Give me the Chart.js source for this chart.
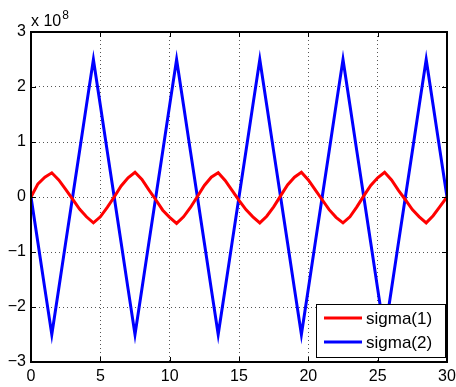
<!DOCTYPE html>
<html>
<head>
<meta charset="utf-8">
<script src="https://cdn.jsdelivr.net/npm/chart.js@4"></script>
<style>
  body { margin: 0; background: #fff; }
  #myChart { display: block; }
</style>
</head>
<body>
<canvas id="myChart" width="456" height="387"></canvas>
<script>
// data (y values in units of 1e8)
var xValues = [0, 0.5, 1, 1.5, 2, 2.5, 3, 3.5, 4, 4.5, 5, 5.5,
  6, 6.5, 7, 7.5, 8, 8.5, 9, 9.5, 10, 10.5, 11, 11.5,
  12, 12.5, 13, 13.5, 14, 14.5, 15, 15.5, 16, 16.5, 17, 17.5,
  18, 18.5, 19, 19.5, 20, 20.5, 21, 21.5, 22, 22.5, 23, 23.5,
  24, 24.5, 25, 25.5, 26, 26.5, 27, 27.5, 28, 28.5, 29, 29.5, 30];
var sigma1 = [0, 0.24, 0.36, 0.44, 0.31, 0.14, -0.04, -0.22, -0.36, -0.47, -0.36, -0.19,
  0.0, 0.2, 0.35, 0.45, 0.32, 0.13, -0.05, -0.24, -0.37, -0.48, -0.36, -0.19,
  0.01, 0.21, 0.36, 0.44, 0.3, 0.12, -0.06, -0.23, -0.36, -0.47, -0.35, -0.18,
  0.02, 0.22, 0.36, 0.45, 0.31, 0.13, -0.05, -0.23, -0.37, -0.47, -0.36, -0.18,
  0.02, 0.21, 0.35, 0.45, 0.31, 0.12, -0.05, -0.23, -0.36, -0.47, -0.34, -0.17, 0.0];
var sigma2 = [0, -0.83, -1.67, -2.5, -1.67, -0.83, 0, 0.83, 1.67, 2.5, 1.67, 0.83,
  0, -0.83, -1.67, -2.5, -1.67, -0.83, 0, 0.83, 1.67, 2.5, 1.67, 0.83,
  0, -0.83, -1.67, -2.5, -1.67, -0.83, 0, 0.83, 1.67, 2.5, 1.67, 0.83,
  0, -0.83, -1.67, -2.5, -1.67, -0.83, 0, 0.83, 1.67, 2.5, 1.67, 0.83,
  0, -0.83, -1.67, -2.5, -1.67, -0.83, 0, 0.83, 1.67, 2.5, 1.67, 0.83, 0];
var seriesNames = ['sigma(1)', 'sigma(2)'];
var xTicks = [0, 5, 10, 15, 20, 25, 30];
var yTicks = [-3, -2, -1, 0, 1, 2, 3];
var exponent = '8';

var FONT = '"Liberation Sans", Arial, Helvetica, sans-serif';

function pts(ys) {
  return xValues.map(function (x, i) { return { x: x, y: ys[i] }; });
}
function minus(v) {
  return v < 0 ? '\u2212' + Math.abs(v) : String(v);
}

// box, inward ticks, exponent label and legend (matlab look)
const matlabPlugin = {
  id: 'matlab',
  afterDatasetsDraw(chart) {
    const ctx = chart.ctx;
    const a = chart.chartArea;
    const xs = chart.scales.x, ys = chart.scales.y;
    ctx.save();
    ctx.strokeStyle = '#000';
    ctx.lineWidth = 1;
    ctx.beginPath();
    xTicks.forEach(function (t) {
      const px = Math.round(xs.getPixelForValue(t)) + 0.5;
      ctx.moveTo(px, a.bottom); ctx.lineTo(px, a.bottom - 5);
      ctx.moveTo(px, a.top); ctx.lineTo(px, a.top + 5);
    });
    yTicks.forEach(function (t) {
      const py = Math.round(ys.getPixelForValue(t)) + 0.5;
      ctx.moveTo(a.left, py); ctx.lineTo(a.left + 5, py);
      ctx.moveTo(a.right, py); ctx.lineTo(a.right - 5, py);
    });
    ctx.stroke();
    ctx.lineWidth = 2;
    ctx.strokeRect(a.left, a.top, a.right - a.left, a.bottom - a.top);

    // x 10^8
    ctx.fillStyle = '#000';
    ctx.textBaseline = 'alphabetic';
    ctx.textAlign = 'left';
    ctx.font = '16px ' + FONT;
    ctx.fillText('x 10', a.left, 26);
    const w = ctx.measureText('x 10').width;
    ctx.font = '12px ' + FONT;
    ctx.fillText(exponent, a.left + w + 1, 19);

    // legend
    const lx = 316, ly = 304, lw = 129, lh = 53;
    ctx.fillStyle = '#fff';
    ctx.fillRect(lx, ly, lw, lh);
    ctx.lineWidth = 1;
    ctx.strokeStyle = '#000';
    ctx.strokeRect(lx + 0.5, ly + 0.5, lw, lh);
    ctx.font = '17px ' + FONT;
    ctx.textBaseline = 'middle';
    chart.data.datasets.forEach(function (ds, i) {
      const yy = ly + 14 + i * 24;
      ctx.strokeStyle = ds.borderColor;
      ctx.lineWidth = 3;
      ctx.beginPath();
      ctx.moveTo(lx + 8, yy); ctx.lineTo(lx + 46, yy);
      ctx.stroke();
      ctx.fillStyle = '#000';
      ctx.fillText(ds.label, lx + 50, yy + 1);
    });
    ctx.restore();
  }
};

const data = {
  datasets: [{
    label: seriesNames[0],
    data: pts(sigma1),
    borderColor: '#ff0000',
    borderWidth: 3,
    pointRadius: 0,
    tension: 0
  }, {
    label: seriesNames[1],
    data: pts(sigma2),
    borderColor: '#0000ff',
    borderWidth: 3,
    pointRadius: 0,
    tension: 0
  }]
};

const config = {
  type: 'line',
  data: data,
  options: {
    responsive: false,
    animation: false,
    layout: { padding: { top: 32, right: 9, left: 0, bottom: 0 } },
    plugins: { legend: false, tooltip: false },
    scales: {
      x: {
        type: 'linear',
        min: 0, max: 30,
        afterBuildTicks: function (s) { s.ticks = xTicks.map(function (v) { return { value: v }; }); },
        afterFit: function (s) { s.height = 25; s.paddingLeft = 0; s.paddingRight = 0; },
        grid: { drawTicks: false, color: '#555', lineWidth: 1 },
        border: { display: false, dash: [1, 3] },
        ticks: { color: '#000', padding: 5, maxRotation: 0, font: { family: FONT, size: 16 } }
      },
      y: {
        min: -3, max: 3,
        afterBuildTicks: function (s) { s.ticks = yTicks.map(function (v) { return { value: v }; }); },
        afterFit: function (s) { s.width = 31; s.paddingTop = 0; s.paddingBottom = 0; },
        grid: { drawTicks: false, color: '#555', lineWidth: 1 },
        border: { display: false, dash: [1, 3] },
        ticks: { color: '#000', padding: 5, font: { family: FONT, size: 16 }, callback: function (v) { return minus(v); } }
      }
    }
  },
  plugins: [matlabPlugin]
};

const myChart = new Chart(document.getElementById('myChart'), config);
</script>
</body>
</html>
